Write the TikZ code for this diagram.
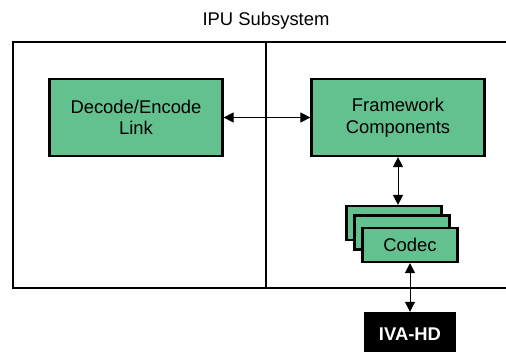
\documentclass[tikz,border=0pt]{standalone}
\usepackage{fontspec}
\setmainfont{Liberation Sans}
\usetikzlibrary{arrows.meta, positioning}

\definecolor{boxgreen}{RGB}{99,193,143}

\begin{document}
\begin{tikzpicture}[
    x=1pt, y=-1pt,
    every node/.style={font=\fontsize{18.4}{21.5}\selectfont, inner sep=0pt, align=center},
    block/.style={draw=black, fill=boxgreen, line width=2.2pt, minimum width=173pt, minimum height=77pt},
    codec/.style={draw=black, fill=boxgreen, line width=2.2pt, minimum width=95pt, minimum height=34pt},
    link/.style={{Triangle[length=10pt,width=10pt]}-{Triangle[length=10pt,width=10pt]}, line width=1pt}
]

% Page size
\useasboundingbox (0,0) rectangle (506,352);

% Title
\node (title) at (266, 21) {IPU Subsystem};

% Subsystem frame and divider
\draw[line width=2.5pt] (13,42) rectangle (530,288);
\coordinate (divtop) at (266,42);
\coordinate (divbot) at (266,288);
\draw[line width=2.5pt] (divtop) -- (divbot);

% Left side
\node[block] (decode) at (136, 117.5) {Decode/Encode\\Link};

% Right side
\node[block] (framework) at (398, 117.5) {Framework\\Components};

% Codec stack
\node[codec] (codec3) at (394, 223) {};
\node[codec] (codec2) at (402, 232.5) {};
\node[codec] (codec1) at (410, 245) {Codec};

% Hardware accelerator
\node[fill=black, text=white, font=\fontsize{18.4}{21.5}\selectfont\bfseries,
      minimum width=92pt, minimum height=44pt] (ivahd) at (410, 334) {IVA-HD};

% Arrows
\draw[link] (decode) -- (framework);
\draw[link] (framework.south) -- (framework.south |- codec3.north);
\draw[link] (codec1.south) -- (ivahd.north);

\end{tikzpicture}
\end{document}
